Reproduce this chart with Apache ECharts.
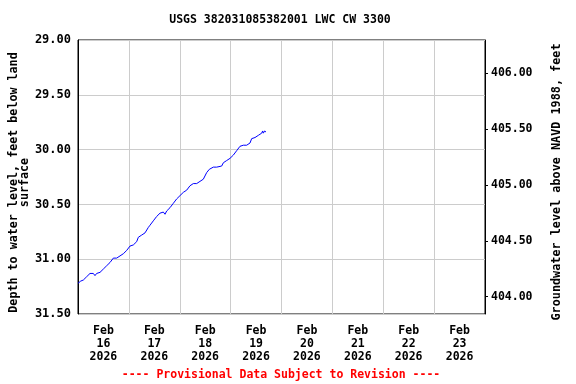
<!DOCTYPE html>
<html>
<head>
<meta charset="utf-8">
<script src="https://cdn.jsdelivr.net/npm/echarts@6/dist/echarts.min.js"></script>
<style>html,body{margin:0;padding:0;background:#fff}#c{width:576px;height:384px}</style>
</head>
<body>
<div id="c"></div>
<script>
// ---- data ----
var titleText = 'USGS 382031085382001 LWC CW 3300';
var footerText = '---- Provisional Data Subject to Revision ----';
var leftAxisName = 'Depth to water level, feet below land\nsurface';
var rightAxisName = 'Groundwater level above NAVD 1988, feet';
var dayLabels = ['Feb\n16\n2026','Feb\n17\n2026','Feb\n18\n2026','Feb\n19\n2026','Feb\n20\n2026','Feb\n21\n2026','Feb\n22\n2026','Feb\n23\n2026'];
var rightTicks = [404.0, 404.5, 405.0, 405.5, 406.0];
var times = [
 '2026-02-16 00:00','2026-02-16 01:16','2026-02-16 02:31','2026-02-16 04:05','2026-02-16 05:40',
 '2026-02-16 07:14','2026-02-16 08:01','2026-02-16 08:48','2026-02-16 10:23','2026-02-16 11:57',
 '2026-02-16 13:31','2026-02-16 15:06','2026-02-16 16:40','2026-02-16 18:15','2026-02-16 19:49',
 '2026-02-16 21:23','2026-02-16 22:58','2026-02-17 00:32','2026-02-17 02:06','2026-02-17 03:41',
 '2026-02-17 04:28','2026-02-17 06:02','2026-02-17 07:36','2026-02-17 09:11','2026-02-17 09:58',
 '2026-02-17 11:32','2026-02-17 13:07','2026-02-17 14:41','2026-02-17 16:15','2026-02-17 17:03',
 '2026-02-17 17:50','2026-02-17 19:24','2026-02-17 20:58','2026-02-17 22:33','2026-02-18 00:07',
 '2026-02-18 01:41','2026-02-18 03:16','2026-02-18 04:50','2026-02-18 06:24','2026-02-18 07:59',
 '2026-02-18 08:46','2026-02-18 09:33','2026-02-18 11:07','2026-02-18 12:42','2026-02-18 13:57',
 '2026-02-18 15:50','2026-02-18 16:38','2026-02-18 17:25','2026-02-18 18:12','2026-02-18 19:47',
 '2026-02-18 20:34','2026-02-18 22:08','2026-02-18 23:42','2026-02-19 01:17','2026-02-19 02:51',
 '2026-02-19 04:25','2026-02-19 06:00','2026-02-19 07:34','2026-02-19 09:08','2026-02-19 09:56',
 '2026-02-19 11:30','2026-02-19 13:04','2026-02-19 14:39','2026-02-19 15:07','2026-02-19 15:25',
 '2026-02-19 16:03','2026-02-19 16:41'
];
var depths = [
 31.22,31.20,31.19,31.16,31.13,
 31.13,31.15,31.13,31.12,31.09,
 31.06,31.03,30.99,30.99,30.97,
 30.95,30.92,30.88,30.87,30.84,
 30.80,30.78,30.76,30.71,30.69,
 30.65,30.61,30.58,30.57,30.59,
 30.56,30.53,30.49,30.45,30.42,
 30.39,30.37,30.33,30.31,30.31,
 30.32,30.29,30.27,30.21,30.18,
 30.16,30.15,30.16,30.16,30.15,
 30.12,30.10,30.08,30.05,30.01,
 29.97,29.96,29.96,29.94,29.90,
 29.89,29.87,29.85,29.83,29.85,
 29.83,29.84
];
// ---- build ----
function utc(s){var p=s.split(/[- :]/).map(Number);return Date.UTC(p[0],p[1]-1,p[2],p[3],p[4]);}
var DAY = 86400000;
var xMin = utc('2026-02-16 00:00'), xMax = utc('2026-02-24 00:00');
var seriesData = times.map(function(t,i){return [utc(t), depths[i]];});
var FONT = 'DejaVu Sans Mono';
var chart = echarts.init(document.getElementById('c'), null, {renderer:'canvas'});
chart.setOption({
  animation:false,
  backgroundColor:'#fff',
  grid:{left:78, top:40, width:407, height:274, containLabel:false, outerBoundsMode:'none',
        show:true, borderColor:'#000', borderWidth:1, backgroundColor:'transparent'},
  graphic:[
    {type:'text', x:280, y:20, style:{text:titleText, align:'center', verticalAlign:'middle', font:'bold 11.5px "DejaVu Sans Mono"', fill:'#000'}},
    {type:'text', x:281, y:375, style:{text:footerText, align:'center', verticalAlign:'middle', font:'bold 11.5px "DejaVu Sans Mono"', fill:'#ff0000'}}
  ],
  xAxis:[
    {type:'value', min:xMin, max:xMax, interval:DAY, position:'bottom',
     axisLine:{show:false}, axisTick:{show:false}, axisLabel:{show:false},
     splitLine:{show:true, lineStyle:{color:'#cccccc', width:1}}},
    {type:'category', data:dayLabels, boundaryGap:true, position:'bottom',
     axisLine:{show:false}, axisTick:{show:false}, splitLine:{show:false},
     axisLabel:{show:true, interval:0, margin:11, color:'#000', fontFamily:FONT, fontWeight:'bold', fontSize:11.5, lineHeight:13}}
  ],
  yAxis:[
    {type:'value', inverse:true, min:29, max:31.5, interval:0.5, position:'left',
     name:leftAxisName, nameLocation:'middle', nameGap:48, nameRotate:90, nameMoveOverlap:false,
     nameTextStyle:{color:'#000', fontFamily:FONT, fontWeight:'bold', fontSize:11.7, lineHeight:11, padding:[0,11,0,0]},
     axisLine:{show:true, lineStyle:{color:'#000'}}, axisTick:{show:false},
     axisLabel:{margin:7, color:'#000', fontFamily:FONT, fontWeight:'bold', fontSize:12, formatter:function(v){return v.toFixed(2);}},
     splitLine:{show:true, lineStyle:{color:'#cccccc', width:1}}},
    {type:'value', min:403.845, max:406.298, position:'right',
     name:rightAxisName, nameLocation:'middle', nameGap:66, nameRotate:90, nameMoveOverlap:false,
     nameTextStyle:{color:'#000', fontFamily:FONT, fontWeight:'bold', fontSize:11.8, padding:[0,10,0,0]},
     axisLine:{show:true, lineStyle:{color:'#000'}},
     axisTick:{show:true, inside:false, length:3, customValues:rightTicks, lineStyle:{color:'#000'}},
     axisLabel:{margin:6, customValues:rightTicks, color:'#000', fontFamily:FONT, fontWeight:'bold', fontSize:11.5, formatter:function(v){return v.toFixed(2);}},
     splitLine:{show:false}}
  ],
  series:[
    {type:'line', xAxisIndex:0, yAxisIndex:0, data:seriesData, showSymbol:false, symbol:'none',
     lineStyle:{color:'#0000ff', width:1}, clip:true}
  ]
});
</script>
</body>
</html>
